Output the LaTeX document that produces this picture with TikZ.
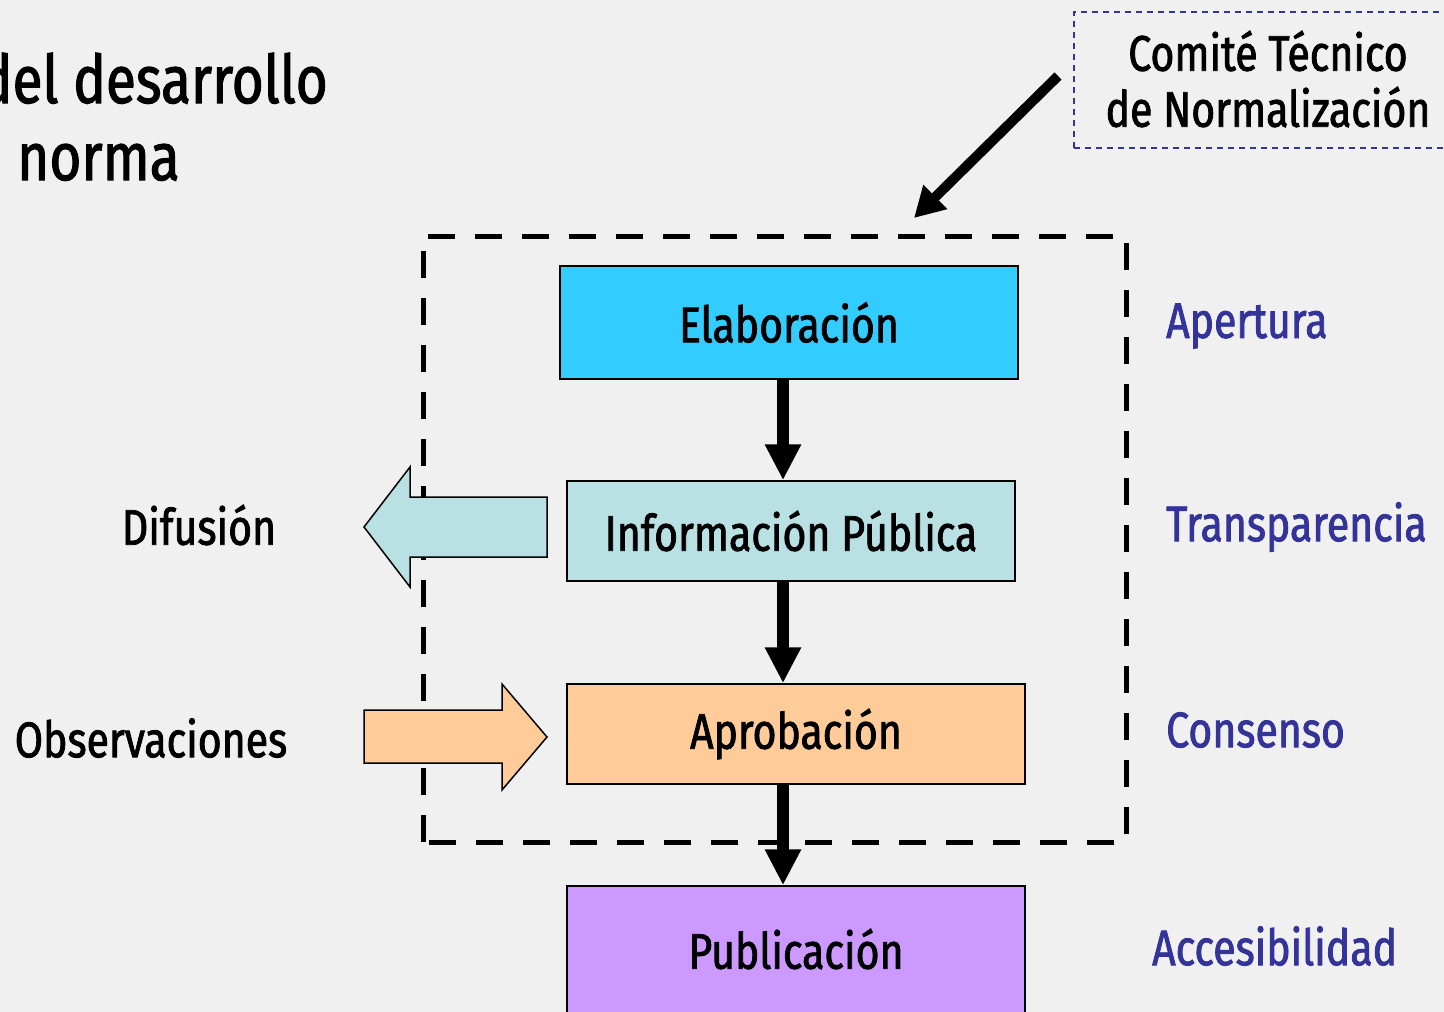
\documentclass[tikz,border=0pt]{standalone}
\usepackage{fontspec}
\setmainfont{Fira Sans}[FakeStretch=0.82,FakeBold=1.6]
\usetikzlibrary{arrows.meta}
\definecolor{bg}{HTML}{F0F0F0}
\definecolor{elabc}{HTML}{33CCFF}
\definecolor{infoc}{HTML}{B9E0E3}
\definecolor{aproc}{HTML}{FFCC99}
\definecolor{pubc}{HTML}{CC99FF}
\definecolor{navy}{HTML}{333399}
\tikzset{
  stepbox/.style={draw=black, line width=1.5pt, inner sep=0pt, font=\fontsize{50}{56}\selectfont},
  flowarrow/.style={line width=12pt, -{Triangle[length=36pt,width=34pt]}},
  blockarrow/.style={draw=black, line width=1.5pt, line join=miter},
  lbl/.style={inner sep=0pt, font=\fontsize{50}{56}\selectfont},
  vlbl/.style={lbl, text=navy, anchor=west},
  ttl/.style={inner sep=0pt, font=\fontsize{67}{72}\selectfont},
}
\begin{document}
\begin{tikzpicture}[x=1pt,y=-1pt]
\useasboundingbox (0,0) rectangle (1444,1012);
\fill[bg] (0,0) rectangle (1444,1012);
% title
\node[ttl, anchor=base east] (t1) at (328,103) {del desarrollo};
\node[ttl, anchor=base west] (t2) at (17,180) {norma};
% comite box
\draw[navy, line width=1.5pt, dash pattern=on 6pt off 5pt] (1074,148) -- (1074,12) -- (1450,12);
\draw[navy, line width=1.5pt, dash pattern=on 6pt off 5pt] (1074,148) -- (1450,148);
\node[lbl, align=center] (ctn) at (1268,79) {Comité Técnico\\de Normalización};
\coordinate (cfrom) at (1058,76);
\coordinate (cto) at (914,218);
\draw[line width=10pt, -{Triangle[length=30pt,width=32pt]}] (cfrom) -- (cto);
% big dashed frame
\draw[line width=5pt, dash pattern=on 27pt off 20pt] (423,842) -- (423,236) -- (1126,236) -- (1126,842) -- cycle;
% block arrows
\draw[blockarrow, fill=infoc] (547,497) -- (410,497) -- (410,467) -- (364,527) -- (410,587) -- (410,557) -- (547,557) -- cycle;
\draw[blockarrow, fill=aproc] (364,710) -- (502,710) -- (502,684) -- (547,737) -- (502,790) -- (502,763) -- (364,763) -- cycle;
% boxes
\node[stepbox, fill=elabc, minimum width=458pt, minimum height=113pt] (elab) at (789,322.5) {Elaboración};
\node[stepbox, fill=infoc, minimum width=448pt, minimum height=100pt] (info) at (791,531) {Información Pública};
\node[stepbox, fill=aproc, minimum width=458pt, minimum height=100pt] (apro) at (796,734) {Aprobación};
\node[stepbox, fill=pubc, minimum width=458pt, minimum height=140pt, text depth=0pt] (pub) at (796,956) {};
\node[lbl] (pubt) at (796,949) {Publicación};
% flow arrows
\draw[flowarrow] (elab.south -| 783,0) -- (info.north -| 783,0);
\draw[flowarrow] (info.south -| 783,0) -- (apro.north -| 783,0);
\draw[flowarrow] (apro.south -| 783,0) -- (pub.north -| 783,0);
% left labels
\node[lbl] (dif) at (199,525) {Difusión};
\node[lbl] (obs) at (151,738) {Observaciones};
% right labels
\node[vlbl] (ape) at (1166,326) {Apertura};
\node[vlbl] (tra) at (1166,527) {Transparencia};
\node[vlbl] (con) at (1166,730) {Consenso};
\node[vlbl] (acc) at (1152,946) {Accesibilidad};
\end{tikzpicture}
\end{document}
